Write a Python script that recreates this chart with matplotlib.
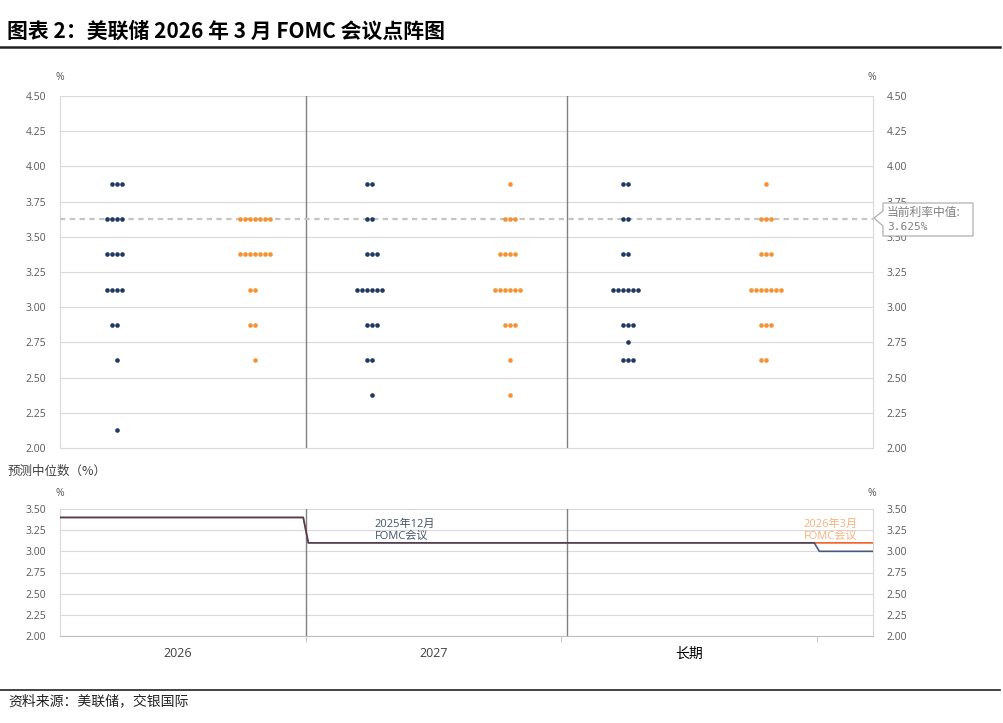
import numpy as np
import matplotlib
matplotlib.use("Agg")
import matplotlib.pyplot as plt
from matplotlib.patches import Polygon
from matplotlib.lines import Line2D

plt.rcParams['font.family'] = ['Open Sans', 'Noto Sans CJK SC', 'DejaVu Sans']

# dot plot data: rate level -> number of participants
rates = [3.875, 3.625, 3.375, 3.125, 2.875, 2.75, 2.625, 2.375, 2.125]
dec_2026 = [3, 4, 4, 4, 2, 0, 1, 0, 1]
mar_2026 = [0, 7, 7, 2, 2, 0, 1, 0, 0]
dec_2027 = [2, 2, 3, 6, 3, 0, 2, 1, 0]
mar_2027 = [1, 3, 4, 6, 3, 0, 1, 1, 0]
dec_long = [2, 2, 2, 6, 3, 1, 3, 0, 0]
mar_long = [1, 3, 3, 7, 3, 0, 2, 0, 0]
current_mid = 3.625

# median projections: 2026, 2027, 2028, long run
median_dec = [3.4, 3.1, 3.1, 3.0]
median_mar = [3.4, 3.1, 3.1, 3.1]
cat_labels = ['2026', '2027', '长期']

navy = '#1f3864'
orange = '#f59233'
grid_c = '#d9d9d9'
tick_c = '#595959'

fig = plt.figure(figsize=(10.04, 7.23), dpi=100)
W, H = 1004, 723


def ax_rect(x0, y0, x1, y1):
    return [x0 / W, 1 - y1 / H, (x1 - x0) / W, (y1 - y0) / H]


xlim = (-0.462, 2.72)
step = 0.0196

ax = fig.add_axes(ax_rect(60, 96, 873, 448))
groups = [(dec_2026, 0, navy), (mar_2026, 0, orange), (dec_2027, 1, navy),
          (mar_2027, 1, orange), (dec_long, 2, navy), (mar_long, 2, orange)]
for counts, c, col in groups:
    base = c - 0.239 if col == navy else c + 0.30
    xs, ys = [], []
    for r, n in zip(rates, counts):
        for k in range(n):
            xs.append(base + (k - n // 2) * step)
            ys.append(r)
    ax.scatter(xs, ys, s=11, color=col, zorder=4, linewidths=0)

ax.axhline(current_mid, color='#c4c4c4', lw=1.6, ls=(0, (2.4, 2.0)), zorder=3)
for xv in [0.501, 1.522]:
    ax.axvline(xv, color='#808080', lw=1, zorder=2)
ax.set_xlim(*xlim)
ax.set_ylim(2.0, 4.5)
ax.set_yticks(np.arange(2.0, 4.51, 0.25))
ax.yaxis.set_major_formatter(matplotlib.ticker.FormatStrFormatter('%.2f'))
ax.grid(axis='y', color=grid_c, lw=0.8)
ax.set_axisbelow(True)
ax.set_xticks([])
ax.tick_params(axis='y', length=0, labelsize=7.5, labelcolor=tick_c,
               labelright=True, pad=10)
for s in ['left', 'right', 'bottom']:
    ax.spines[s].set_color(grid_c)
ax.spines['top'].set_visible(False)

# bottom: median projection lines
ax2 = fig.add_axes(ax_rect(60, 509, 873, 636))


def step_line(vals):
    xs, ys = [], []
    for i, v in enumerate(vals):
        xs += [i - 0.5 + 0.01, i + 0.5 - 0.01]
        ys += [v, v]
    xs[0] = xlim[0]
    return xs, ys


x_m, y_m = step_line(median_mar)
x_d, y_d = step_line(median_dec)
ax2.plot(x_m, y_m, color='#f0602a', lw=1.2, zorder=3)
ax2.plot(x_d, y_d, color=navy, lw=1.2, alpha=0.8, zorder=4)
for xv in [0.501, 1.522]:
    ax2.axvline(xv, color='#808080', lw=1, zorder=2)
ax2.set_xlim(*xlim)
ax2.set_ylim(2.0, 3.5)
ax2.set_yticks(np.arange(2.0, 3.51, 0.25))
ax2.yaxis.set_major_formatter(matplotlib.ticker.FormatStrFormatter('%.2f'))
ax2.grid(axis='y', color=grid_c, lw=0.8)
ax2.set_axisbelow(True)
ax2.tick_params(axis='y', length=0, labelsize=7.5, labelcolor=tick_c,
                labelright=True, pad=10)
ax2.set_xticks([0, 1, 2])
ax2.set_xticklabels(cat_labels)
ax2.set_xticks([0.5, 1.5, 2.5], minor=True)
ax2.tick_params(axis='x', which='major', length=0, pad=8, labelsize=9,
                labelcolor='#404040')
ax2.tick_params(axis='x', which='minor', length=4, color='#bfbfbf')
ax2.get_xticklabels()[2].set_fontsize(10)
ax2.get_xticklabels()[2].set_color('#000000')
for s in ['left', 'right']:
    ax2.spines[s].set_color(grid_c)
ax2.spines['bottom'].set_color('#bfbfbf')
ax2.spines['top'].set_visible(False)

ax2.text(0.77, 3.25, '2025年12月\nFOMC会议', fontsize=8, color='#44546a',
         va='center', ha='left', linespacing=1.1)
ax2.text(2.66, 3.25, '2026年3月\nFOMC会议', fontsize=8, color='#f8b27a',
         va='center', ha='right', linespacing=1.1)

# labels and decorations in pixel coords
def ftext(x, y, s, **kw):
    fig.text(x / W, 1 - y / H, s, **kw)


cjk = ['Noto Sans CJK SC', 'DejaVu Sans']
ftext(7, 31, '图表 2：美联储 2026 年 3 月 FOMC 会议点阵图', fontsize=15,
      fontweight='bold', family=cjk, va='center', ha='left')
fig.add_artist(Line2D([0, 1000 / W], [1 - 47 / H] * 2, color='#222222', lw=1.8))
fig.add_artist(Line2D([0, 1000 / W], [1 - 690 / H] * 2, color='#222222', lw=1.2))
ftext(8, 701, '资料来源：美联储，交银国际', fontsize=10, family=cjk,
      style='italic', va='center', ha='left', color='#222222')
ftext(8, 471, '预测中位数（%）', fontsize=9, family=cjk, va='center',
      ha='left', color='#404040')
for x, y in [(60, 78), (872, 78), (60, 494), (872, 494)]:
    ftext(x, y, '%', fontsize=7.5, color=tick_c, va='center', ha='center')

# callout box for current rate (drawn over the right tick labels, as in source)
pts = [(883, 203), (973, 203), (973, 236), (883, 236), (883, 226), (874, 218),
       (883, 211)]
poly = Polygon([(px / W, 1 - py / H) for px, py in pts], closed=True,
               transform=fig.transFigure, facecolor='white',
               edgecolor='#a6a6a6', lw=0.8, zorder=10)
fig.add_artist(poly)
ftext(887, 212, '当前利率中值:', fontsize=8.5, family=cjk, color='#7f7f7f',
      va='center', ha='left', zorder=11)
ftext(887, 227, '3.625%', fontsize=8, family=['DejaVu Sans Mono'],
      color='#7f7f7f', va='center', ha='left', zorder=11)

fig.savefig('out.png', dpi=100)
